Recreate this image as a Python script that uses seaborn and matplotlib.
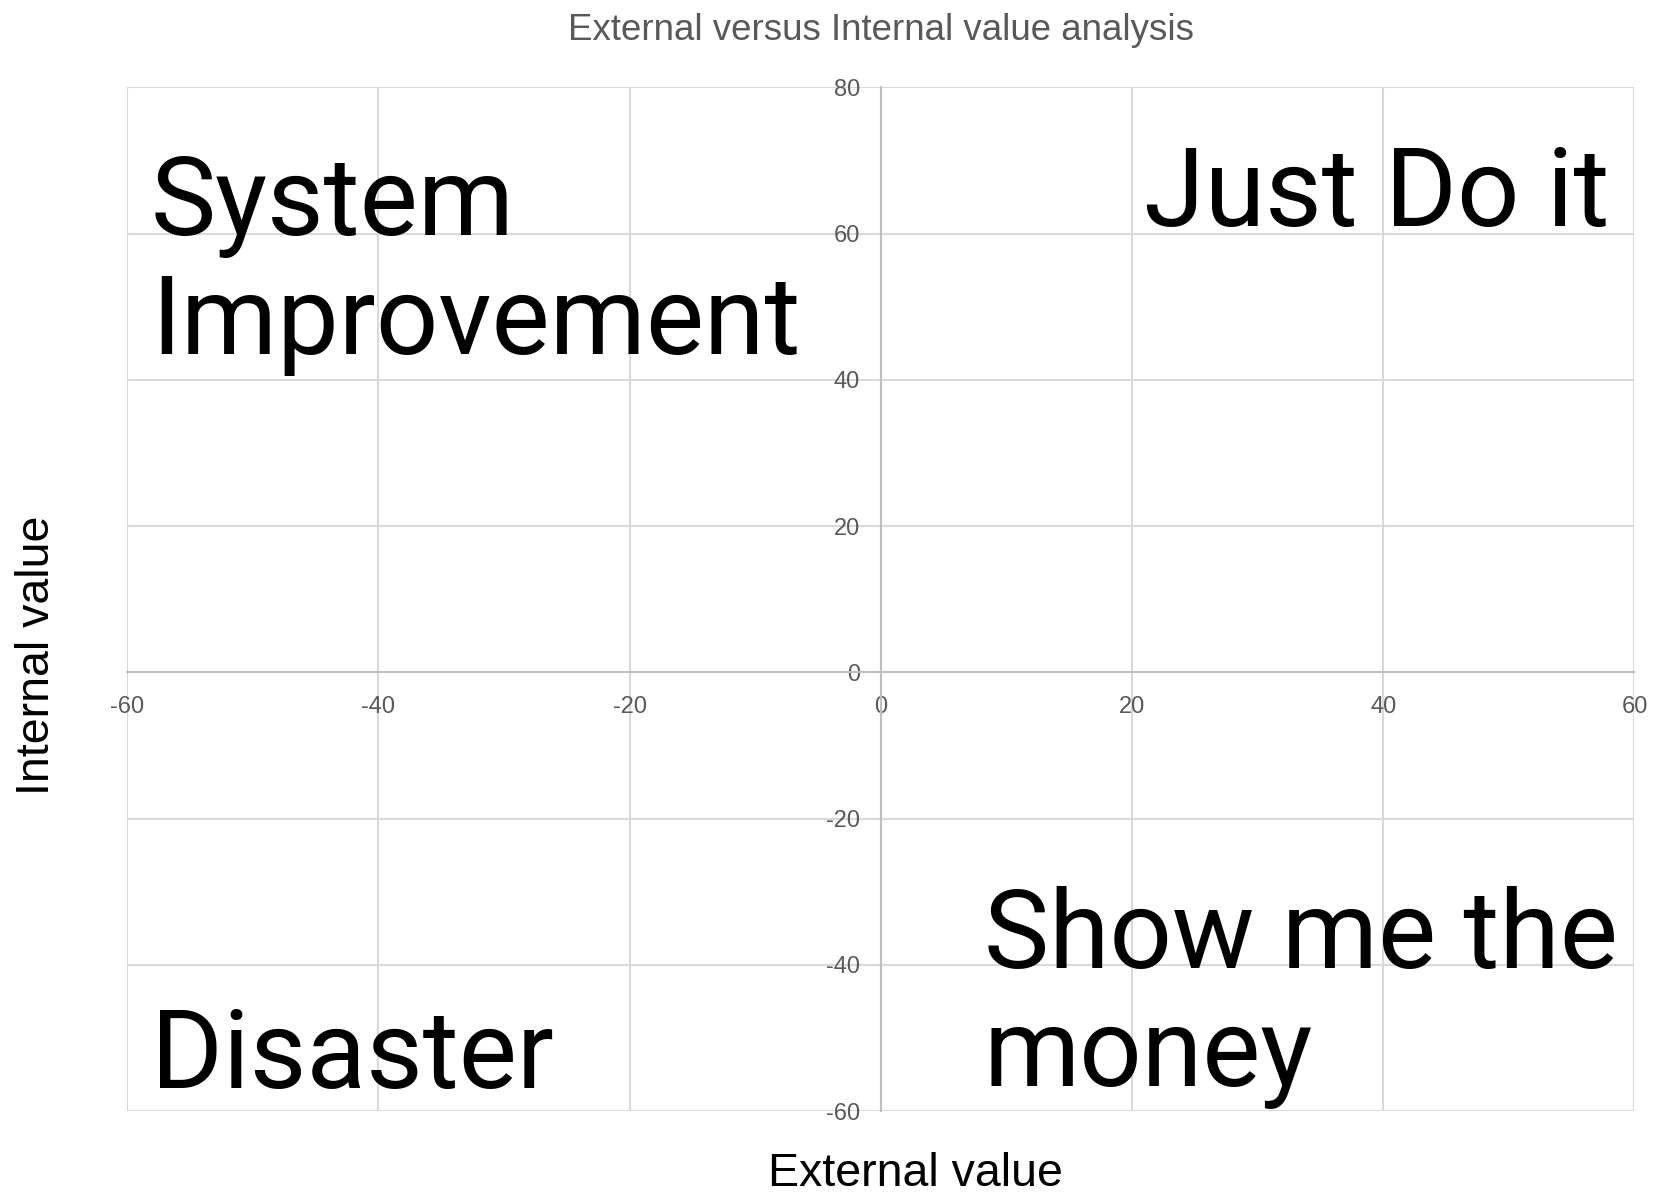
import matplotlib
matplotlib.use("Agg")
import numpy as np
import pandas as pd
import seaborn as sns
from matplotlib import pyplot as plt

# chart content
title = "External versus Internal value analysis"
x_label = "External value"
y_label = "Internal value"
x_ticks = [-60, -40, -20, 0, 20, 40, 60]
y_ticks = [-60, -40, -20, 0, 20, 40, 60, 80]
quadrants = ["System\nImprovement", "Just Do it", "Disaster", "Show me the\nmoney"]

# no data points in the chart, only the quadrant frame
points = pd.DataFrame({"external": [], "internal": []})

sns.set_theme(style="whitegrid")
plt.rcParams["font.family"] = ["Liberation Sans", "DejaVu Sans"]
plt.rcParams["axes.unicode_minus"] = False

fig = plt.figure(figsize=(16.56, 11.96), dpi=100)
ax = fig.add_axes([0.0767, 0.071, 0.9103, 0.856])

sns.scatterplot(data=points, x="external", y="internal", ax=ax)

ax.set_xlim(x_ticks[0], x_ticks[-1])
ax.set_ylim(y_ticks[0], y_ticks[-1])
ax.set_xticks(x_ticks)
ax.set_yticks(y_ticks)
ax.set_xlabel("")
ax.set_ylabel("")

grid_col = "#d9d9d9"
axis_col = "#bfbfbf"
ax.grid(True, color=grid_col, linewidth=1.5)
for gl in ax.get_xgridlines() + ax.get_ygridlines():
    gl.set_clip_on(False)

ax.spines["left"].set_position(("data", 0))
ax.spines["bottom"].set_position(("data", 0))
ax.spines["left"].set_color(axis_col)
ax.spines["bottom"].set_color(axis_col)
ax.spines["left"].set_linewidth(1.5)
ax.spines["bottom"].set_linewidth(1.5)
ax.spines["top"].set_visible(False)
ax.spines["right"].set_visible(False)

ax.tick_params(axis="both", length=0, labelsize=17, labelcolor="#595959")
ax.tick_params(axis="x", pad=17)
ax.tick_params(axis="y", pad=15)

big = dict(fontsize=79, color="black", linespacing=1.17, family=["Roboto", "DejaVu Sans"])
ax.text(-58.1, 43.5, quadrants[0], ha="left", va="baseline", **big)
ax.text(58.0, 61.1, quadrants[1], ha="right", va="baseline", **big)
ax.text(-58.1, -56.9, quadrants[2], ha="left", va="baseline", **big)
ax.text(8.2, -56.6, quadrants[3], ha="left", va="baseline", **big)

fig.text(0.532, 1 - 31 / 1196, title, ha="center", va="center",
         fontsize=26.4, color="#595959")
fig.text(915 / 1656, 1 - 1174 / 1196, x_label, ha="center", va="center",
         fontsize=33.5, color="black")
fig.text(37 / 1656, 1 - 655 / 1196, y_label, ha="center", va="center",
         rotation=90, fontsize=33.5, color="black")

fig.savefig("out.png", dpi=100, facecolor="white")
